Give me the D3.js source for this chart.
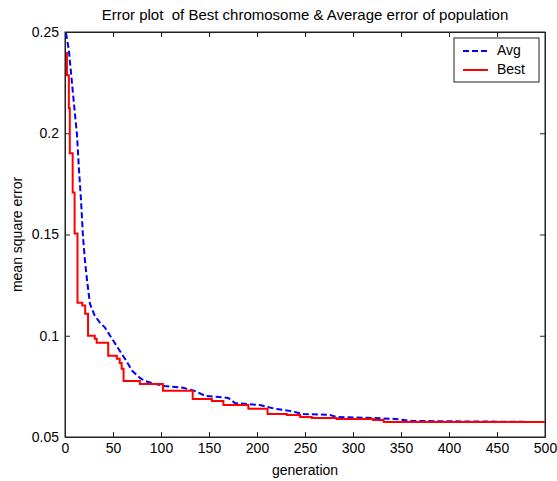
<!DOCTYPE html>
<html>
<head>
<meta charset="utf-8">
<script src="https://cdnjs.cloudflare.com/ajax/libs/d3/7.8.5/d3.min.js"></script>
<style>
	body { margin: 0; background: #fff; }
	svg { font-family: 'Liberation Sans', Arial, sans-serif; }
</style>
</head>
<body>
<div id="chart"></div>
<script>
// Average error of population (generation, mse)
var avgGen = [1, 4, 7, 10, 12.5, 14.6, 16.7, 18.8, 20.8, 23, 26, 31, 36.5, 41.7, 47, 55, 62.5, 70, 78, 83, 94, 104, 123, 135, 146, 170, 177, 203, 219, 234, 248, 276, 283, 321, 344, 362, 500];
var avgErr = [0.2495, 0.2411, 0.2262, 0.2114, 0.199, 0.1817, 0.1668, 0.1485, 0.1371, 0.1272, 0.1158, 0.1099, 0.1064, 0.104, 0.1, 0.0941, 0.0886, 0.0827, 0.0792, 0.0777, 0.0762, 0.0752, 0.0743, 0.0728, 0.0703, 0.0693, 0.0668, 0.0658, 0.0639, 0.0629, 0.0614, 0.0609, 0.0599, 0.0594, 0.0589, 0.0579, 0.0574];

// Best chromosome error (stepwise)
var bestGen = [1, 2, 4, 5, 8, 10, 13, 18, 21, 24, 31, 33, 45, 54, 57, 59, 61, 78, 102, 133, 153, 165, 191, 211, 231, 245, 257, 283, 321, 332, 500];
var bestErr = [0.2396, 0.2287, 0.2124, 0.1901, 0.1708, 0.1505, 0.1163, 0.1149, 0.1109, 0.1, 0.0985, 0.0965, 0.0901, 0.0886, 0.0866, 0.0837, 0.0777, 0.0762, 0.0728, 0.0688, 0.0678, 0.0658, 0.0639, 0.0614, 0.0609, 0.0599, 0.0594, 0.0589, 0.0584, 0.0574, 0.0574];

var xTicks = [0, 50, 100, 150, 200, 250, 300, 350, 400, 450, 500];
var yTicks = [0.05, 0.1, 0.15, 0.2, 0.25];

var W = 557, H = 481;
var box = { left: 65, right: 545, top: 32, bottom: 437 };
var fs = 14;

var svg = d3.select("#chart").append("svg")
	.attr("width", W)
	.attr("height", H);

var x = d3.scaleLinear().domain([0, 500]).range([box.left, box.right]);
var y = d3.scaleLinear().domain([0.05, 0.25]).range([box.bottom, box.top]);

// plot box
svg.append("rect")
	.attr("x", box.left).attr("y", box.top)
	.attr("width", box.right - box.left).attr("height", box.bottom - box.top)
	.attr("fill", "#fff").attr("stroke", "#222").attr("stroke-width", 1);

// axes with inward ticks
var xAxis = d3.axisBottom(x).tickValues(xTicks).tickSizeInner(-5).tickSizeOuter(0).tickPadding(6);
var yAxis = d3.axisLeft(y).tickValues(yTicks).tickSizeInner(-5).tickSizeOuter(0).tickPadding(6)
	.tickFormat(function(d) { return String(+d.toFixed(2)); });

svg.append("g").attr("transform", "translate(0," + box.bottom + ")").call(xAxis);
svg.append("g").attr("transform", "translate(" + box.left + ",0)").call(yAxis);
// top & right ticks
svg.append("g").attr("transform", "translate(0," + box.top + ")")
	.call(d3.axisTop(x).tickValues(xTicks).tickSizeInner(-5).tickSizeOuter(0).tickFormat(""));
svg.append("g").attr("transform", "translate(" + box.right + ",0)")
	.call(d3.axisRight(y).tickValues(yTicks).tickSizeInner(-5).tickSizeOuter(0).tickFormat(""));

svg.selectAll(".domain").attr("stroke", "#222");
svg.selectAll(".tick line").attr("stroke", "#222");
svg.selectAll(".tick text").attr("font-size", fs).attr("fill", "#000")
	.attr("font-family", "'Liberation Sans', Arial, sans-serif");

// lines
var avgData = avgGen.map(function(g, i) { return [g, avgErr[i]]; });
var bestData = bestGen.map(function(g, i) { return [g, bestErr[i]]; });

var avgLine = d3.line().x(function(d) { return x(d[0]); }).y(function(d) { return y(d[1]); });
var bestLine = d3.line().curve(d3.curveStepAfter).x(function(d) { return x(d[0]); }).y(function(d) { return y(d[1]); });

svg.append("path").datum(avgData)
	.attr("d", avgLine)
	.attr("fill", "none").attr("stroke", "#0000ff").attr("stroke-width", 2)
	.attr("stroke-dasharray", "6,3");

svg.append("path").datum(bestData)
	.attr("d", bestLine)
	.attr("fill", "none").attr("stroke", "#ff0000").attr("stroke-width", 2);

// title and labels
svg.append("text")
	.attr("x", (box.left + box.right) / 2).attr("y", 20)
	.attr("text-anchor", "middle").attr("font-size", 15)
	.style("white-space", "pre")
	.text("Error plot  of Best chromosome & Average error of population");

svg.append("text")
	.attr("x", (box.left + box.right) / 2).attr("y", 475)
	.attr("text-anchor", "middle").attr("font-size", fs)
	.text("generation");

svg.append("text")
	.attr("transform", "translate(22," + ((box.top + box.bottom) / 2) + ") rotate(-90)")
	.attr("text-anchor", "middle").attr("font-size", fs)
	.text("mean square error");

// legend
var lg = svg.append("g");
lg.append("rect")
	.attr("x", 454).attr("y", 38).attr("width", 85).attr("height", 44)
	.attr("fill", "#fff").attr("stroke", "#222").attr("stroke-width", 1);
var items = [
	{ name: "Avg", color: "#0000ff", dash: "6,3", cy: 51 },
	{ name: "Best", color: "#ff0000", dash: null, cy: 70 }
];
items.forEach(function(d) {
	lg.append("line")
		.attr("x1", 463).attr("x2", 488).attr("y1", d.cy).attr("y2", d.cy)
		.attr("stroke", d.color).attr("stroke-width", 2)
		.attr("stroke-dasharray", d.dash);
	lg.append("text")
		.attr("x", 497).attr("y", d.cy + 4)
		.attr("font-size", fs)
		.text(d.name);
});
</script>
</body>
</html>
